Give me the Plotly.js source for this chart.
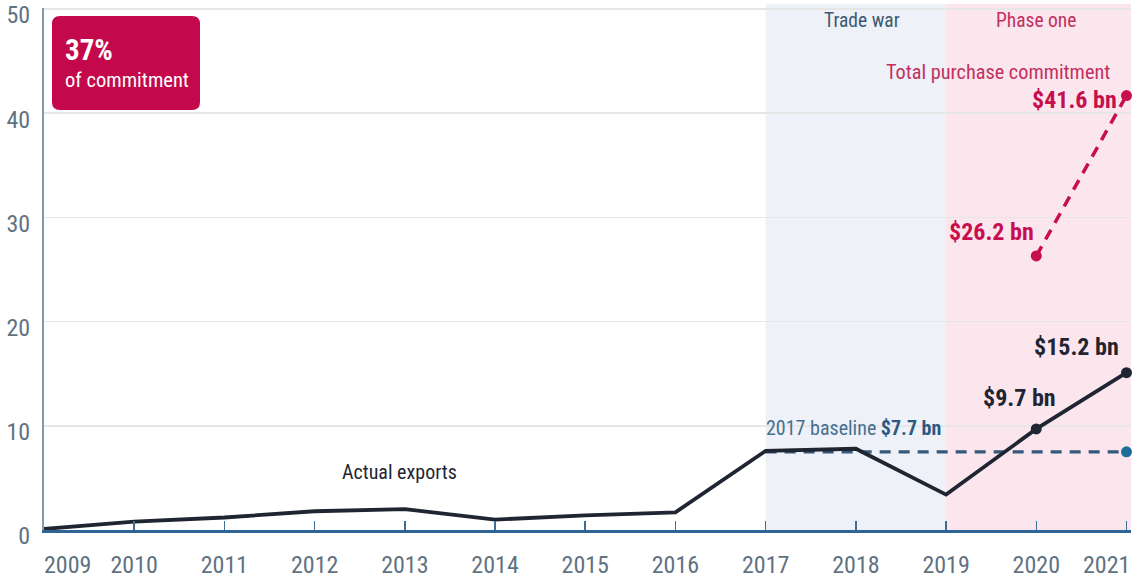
<!DOCTYPE html>
<html>
<head>
<meta charset="utf-8">
<script src="https://cdn.plot.ly/plotly-3.0.1.min.js"></script>
<style>html,body{margin:0;padding:0;background:#fff;}#chart{width:1139px;height:584px;}</style>
</head>
<body>
<div id="chart"></div>
<script>
// ---- data ----
const years = [2009, 2010, 2011, 2012, 2013, 2014, 2015, 2016, 2017, 2018, 2019, 2020, 2021];
const actualExports = [0.1, 0.8, 1.2, 1.8, 2.0, 1.0, 1.4, 1.7, 7.6, 7.8, 3.4, 9.7, 15.1];
const baselineYears = [2017, 2021];
const baselineValues = [7.5, 7.5];
const commitmentYears = [2020, 2021];
const commitmentValues = [26.3, 41.7];
const xTickYears = [2009, 2010, 2011, 2012, 2013, 2014, 2015, 2016, 2017, 2018, 2019, 2020, 2021];
const xTickLabels = ['', '2010', '2011', '2012', '2013', '2014', '2015', '2016', '2017', '2018', '2019', '2020', ''];
const yTicks = [0, 10, 20, 30, 40, 50];
const periods = [
  {name: 'Trade war', start: 2017, end: 2019},
  {name: 'Phase one', start: 2019, end: 2021.05}
];

// ---- styles ----
const FONT = '"Roboto Condensed", Roboto, "Liberation Sans", sans-serif';
const DARK = '#1f2531';
const CRIMSON = '#c70f4e';
const TICKGREY = '#5f7282';

const W = 1139, H = 584;
const M = {l: 44, r: 8, t: 8, b: 54};
const PW = W - M.l - M.r, PH = H - M.t - M.b;
const px2paperX = p => (p - M.l) / PW;
const px2paperY = p => (H - M.b - p) / PH;

function roundedRect(x0, y0, x1, y1, r) {
  const X = px2paperX, Y = px2paperY;
  return `M${X(x0 + r)},${Y(y0)} L${X(x1 - r)},${Y(y0)} Q${X(x1)},${Y(y0)} ${X(x1)},${Y(y0 + r)} ` +
         `L${X(x1)},${Y(y1 - r)} Q${X(x1)},${Y(y1)} ${X(x1 - r)},${Y(y1)} ` +
         `L${X(x0 + r)},${Y(y1)} Q${X(x0)},${Y(y1)} ${X(x0)},${Y(y1 - r)} ` +
         `L${X(x0)},${Y(y0 + r)} Q${X(x0)},${Y(y0)} ${X(x0 + r)},${Y(y0)} Z`;
}

const lastIdx = years.length - 1;
const actualMarkerSizes = years.map(y => (y >= 2020 ? 11 : 0));

const traces = [
  {
    x: baselineYears, y: baselineValues, type: 'scatter', mode: 'lines+markers',
    line: {color: '#35597a', width: 3.2, dash: '11px,8px'},
    marker: {size: [0, 11], color: '#1d6d99', opacity: 1, line: {width: 0}},
    cliponaxis: false, hoverinfo: 'skip', showlegend: false
  },
  {
    x: years, y: actualExports, type: 'scatter', mode: 'lines+markers',
    line: {color: DARK, width: 3.8},
    marker: {size: actualMarkerSizes, color: DARK, opacity: 1, line: {width: 0}},
    cliponaxis: false, hoverinfo: 'skip', showlegend: false
  },
  {
    x: commitmentYears, y: commitmentValues, type: 'scatter', mode: 'lines+markers',
    line: {color: CRIMSON, width: 3.5, dash: '11px,8px'},
    marker: {size: 11, color: CRIMSON, opacity: 1, line: {width: 0}},
    cliponaxis: false, hoverinfo: 'skip', showlegend: false
  }
];

const shapes = [
  {type: 'rect', xref: 'x', yref: 'paper', x0: periods[0].start, x1: periods[0].end, y0: 0, y1: 1.008,
   fillcolor: '#eef1f8', line: {width: 0}, layer: 'below'},
  {type: 'rect', xref: 'x', yref: 'paper', x0: periods[1].start, x1: periods[1].end, y0: 0, y1: 1.008,
   fillcolor: '#fce6ee', line: {width: 0}, layer: 'below'},
  {type: 'path', xref: 'paper', yref: 'paper', path: roundedRect(52, 16, 200, 110, 8),
   fillcolor: '#c3084b', line: {width: 0}, layer: 'above'}
];

const annotations = [
  {xref: 'x', yref: 'paper', x: 2018, y: 1, yshift: -12, xshift: 6, text: periods[0].name, showarrow: false,
   font: {family: FONT, size: 19.5, color: '#3d5a72'}, xanchor: 'center', yanchor: 'middle'},
  {xref: 'x', yref: 'paper', x: 2020, y: 1, yshift: -12, text: periods[1].name, showarrow: false,
   font: {family: FONT, size: 19.5, color: '#c2305f'}, xanchor: 'center', yanchor: 'middle'},
  {xref: 'x', yref: 'y', x: 2021, y: commitmentValues[1], xshift: -14, yshift: 24, text: 'Total purchase commitment',
   showarrow: false, font: {family: FONT, size: 20.3, color: '#c2305f'}, xanchor: 'right', yanchor: 'middle'},
  {xref: 'x', yref: 'y', x: 2021, y: commitmentValues[1], xshift: -7, yshift: -4, text: '<b>$41.6 bn</b>',
   showarrow: false, font: {family: FONT, size: 24, color: CRIMSON}, xanchor: 'right', yanchor: 'middle'},
  {xref: 'x', yref: 'y', x: 2020, y: commitmentValues[0], xshift: 0, yshift: 24, text: '<b>$26.2 bn</b>',
   showarrow: false, font: {family: FONT, size: 24, color: CRIMSON}, xanchor: 'right', yanchor: 'middle'},
  {xref: 'x', yref: 'y', x: 2021, y: actualExports[lastIdx], xshift: -5, yshift: 26, text: '<b>$15.2 bn</b>',
   showarrow: false, font: {family: FONT, size: 24, color: DARK}, xanchor: 'right', yanchor: 'middle'},
  {xref: 'x', yref: 'y', x: 2020, y: actualExports[lastIdx - 1], xshift: 22, yshift: 31, text: '<b>$9.7 bn</b>',
   showarrow: false, font: {family: FONT, size: 24, color: DARK}, xanchor: 'right', yanchor: 'middle'},
  {xref: 'x', yref: 'y', x: 2017, y: baselineValues[0], xshift: -2, yshift: 24,
   text: '<span style="color:#46708e">2017 baseline</span> <b>$7.7 bn</b>',
   showarrow: false, font: {family: FONT, size: 20, color: '#2a5a80'}, xanchor: 'left', yanchor: 'middle'},
  {xref: 'x', yref: 'y', x: 2013, y: 5.6, xshift: -5, text: 'Actual exports', showarrow: false,
   font: {family: FONT, size: 20, color: DARK}, xanchor: 'center', yanchor: 'middle'},
  {xref: 'paper', yref: 'paper', x: px2paperX(63), y: px2paperY(50), text: '<b>37%</b>', showarrow: false,
   font: {family: FONT, size: 29, color: '#ffffff'}, xanchor: 'left', yanchor: 'middle'},
  {xref: 'paper', yref: 'paper', x: px2paperX(63), y: px2paperY(80), text: 'of commitment', showarrow: false,
   font: {family: FONT, size: 20.5, color: '#ffffff'}, xanchor: 'left', yanchor: 'middle'},
  {xref: 'x', yref: 'paper', x: xTickYears[0], y: 0, xshift: 23, yshift: -35, text: String(years[0]), showarrow: false,
   font: {family: FONT, size: 24, color: TICKGREY}, xanchor: 'center', yanchor: 'middle'},
  {xref: 'x', yref: 'paper', x: xTickYears[xTickYears.length - 1], y: 0, xshift: -20, yshift: -35,
   text: String(years[lastIdx]), showarrow: false,
   font: {family: FONT, size: 24, color: TICKGREY}, xanchor: 'center', yanchor: 'middle'}
];

const layout = {
  width: W, height: H,
  margin: M,
  paper_bgcolor: '#ffffff', plot_bgcolor: 'rgba(0,0,0,0)',
  showlegend: false,
  xaxis: {
    range: [2009, 2021.05], tickvals: xTickYears, ticktext: xTickLabels,
    ticks: 'inside', ticklen: 9, tickwidth: 1.5, tickcolor: '#3f6c93',
    showline: true, linecolor: '#2f6496', linewidth: 2.5,
    showgrid: false, zeroline: false, fixedrange: true,
    tickfont: {family: FONT, size: 24, color: TICKGREY},
    ticklabelstandoff: 12, ticklabeloverflow: 'allow'
  },
  yaxis: {
    range: [0, 50.1], tickvals: yTicks, ticks: '',
    showline: true, linecolor: '#8797a5', linewidth: 2,
    showgrid: true, gridcolor: '#e6e6e6', gridwidth: 1.5,
    zeroline: false, fixedrange: true,
    tickfont: {family: FONT, size: 24, color: TICKGREY},
    ticklabelstandoff: 7, ticklabelshift: 6, ticklabeloverflow: 'allow'
  },
  shapes: shapes,
  annotations: annotations
};

Plotly.newPlot('chart', traces, layout, {displayModeBar: false, staticPlot: true});
</script>
</body>
</html>
